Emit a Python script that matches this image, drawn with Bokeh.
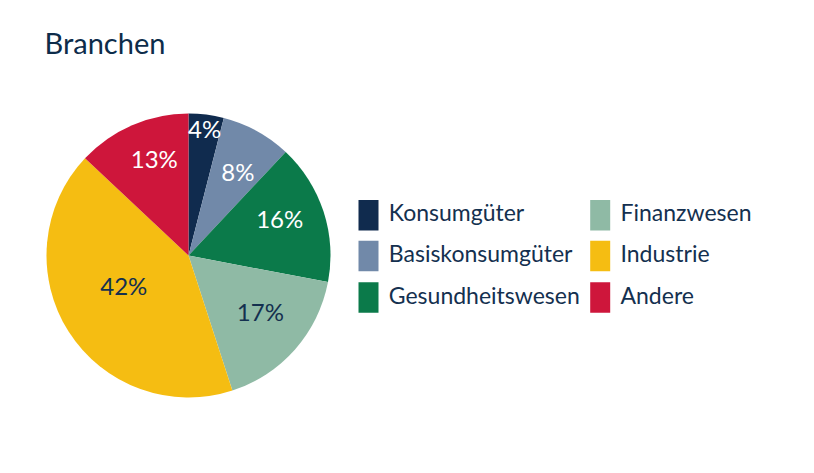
import math
from bokeh.plotting import figure
from bokeh.models import Range1d, ColumnDataSource, Label
from bokeh.core.properties import value
from bokeh.embed import file_html
from bokeh.resources import INLINE

# ---- data ----
categories = ["Konsumgüter", "Basiskonsumgüter", "Gesundheitswesen",
              "Finanzwesen", "Industrie", "Andere"]
shares = [4, 8, 16, 17, 42, 13]
colors = ["#102B4E", "#7189A9", "#0B7A4A", "#8FBAA5", "#F5BD12", "#CE163B"]
label_colors = ["white", "white", "white", "#14304F", "#14304F", "white"]
label_radius = [0.873, 0.664, 0.683, 0.661, 0.514, 0.698]  # fraction of pie radius
label_turn = [0.3, 2.8, -1.9, -1.4, 4.9, 3.2]  # degrees clockwise from slice middle
title_text = "Branchen"

FONT = "Lato"
TEXT = "#14304F"

W, H = 798, 457
p = figure(width=W, height=H, output_backend="svg", toolbar_location=None,
           x_range=Range1d(0, W), y_range=Range1d(0, H),
           x_axis_location=None, y_axis_location=None,
           min_border=0, outline_line_color=None, background_fill_color="white",
           border_fill_color="white")
p.grid.visible = False

cx, cy, r = 188, 202, 142
total = sum(shares)
starts, ends, lx, ly, labels = [], [], [], [], []
cum = 0.0
for i, s in enumerate(shares):
    a0 = cum / total
    a1 = (cum + s) / total
    starts.append(math.pi / 2 - 2 * math.pi * a1)
    ends.append(math.pi / 2 - 2 * math.pi * a0)
    mid = math.pi / 2 - 2 * math.pi * (a0 + a1) / 2 - math.radians(label_turn[i])
    lx.append(cx + label_radius[i] * r * math.cos(mid))
    ly.append(cy + label_radius[i] * r * math.sin(mid) + 4)
    labels.append(f"{s}%")
    cum += s

src = ColumnDataSource(dict(start=starts, end=ends, color=colors, x=lx, y=ly,
                            label=labels, lc=label_colors))
p.wedge(x=cx, y=cy, radius=r, start_angle="start", end_angle="end",
        fill_color="color", line_color=None, source=src)
p.text(x="x", y="y", text="label", text_color="lc", text_font=value(FONT),
       text_font_size="24px", text_align="center", text_baseline="middle",
       source=src)

# title
p.add_layout(Label(x=44, y=415, text=title_text, text_font=FONT,
                   text_font_size="29px", text_color="#0D2C4A",
                   text_baseline="alphabetic"))

# legend (two columns, three rows)
col_x = [368, 599.7]
row_y = [242.3, 201.5, 160]
sq_x, sq_y, tx, ty = [], [], [], []
for i, c in enumerate(categories):
    col, row = divmod(i, 3)
    sq_x.append(col_x[col])
    sq_y.append(row_y[row])
    tx.append(col_x[col] + 20.3)
    ty.append(row_y[row] + 3)
lsrc = ColumnDataSource(dict(x=sq_x, y=sq_y, tx=tx, ty=ty, color=colors,
                             name=categories))
p.rect(x="x", y="y", width=20, height=30.5, fill_color="color",
       line_color=None, source=lsrc)
p.text(x="tx", y="ty", text="name", text_color=TEXT, text_font=value(FONT),
       text_font_size="23px", text_align="left", text_baseline="alphabetic",
       source=lsrc)

open("out.html", "w").write(file_html(p, INLINE))
